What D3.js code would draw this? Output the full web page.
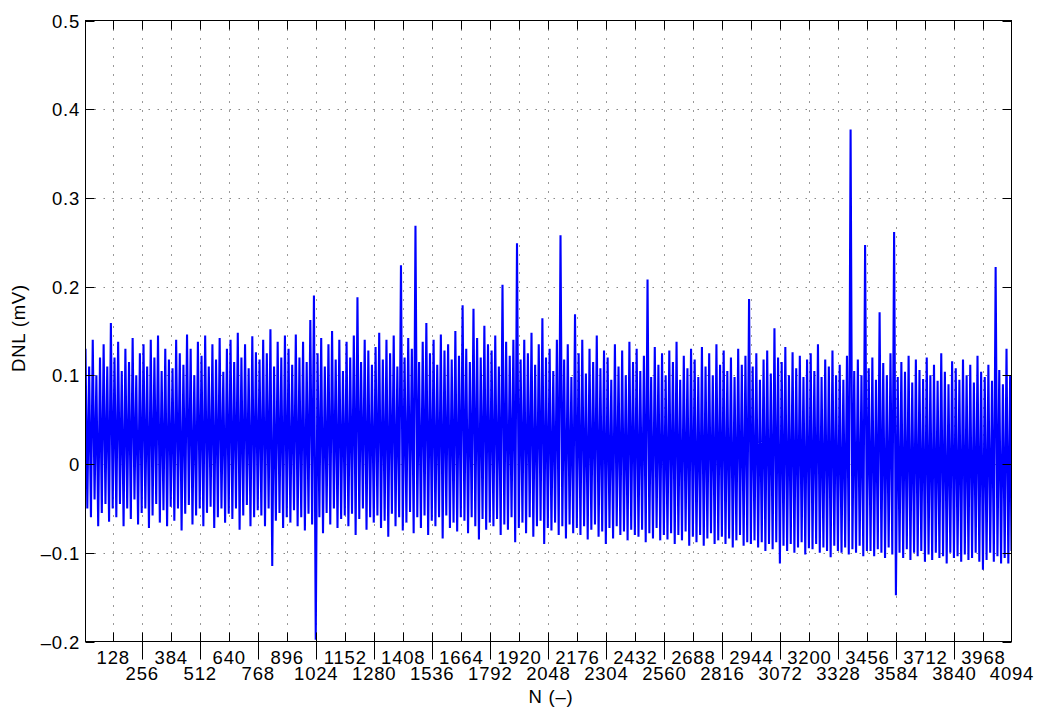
<!DOCTYPE html>
<html>
<head>
<meta charset="utf-8">
<script src="https://cdn.jsdelivr.net/npm/d3@7"></script>
<style>
  body { margin: 0; background: #fff; }
  svg text { font-family: "Liberation Sans", Arial, Helvetica, sans-serif; font-size: 18.5px; letter-spacing: 0.8px; fill: #000; }
</style>
</head>
<body>
<svg id="chart" width="1039" height="709"></svg>
<script>
// X tick labels: odd multiples of 128 on the upper row, even ones (plus the last code) below
const xLabelsUpper = [128, 384, 640, 896, 1152, 1408, 1664, 1920, 2176, 2432, 2688, 2944, 3200, 3456, 3712, 3968];
const xLabelsLower = [256, 512, 768, 1024, 1280, 1536, 1792, 2048, 2304, 2560, 2816, 3072, 3328, 3584, 3840, 4094];
const yTickValues = [-0.2, -0.1, 0, 0.1, 0.2, 0.3, 0.4, 0.5];
const xRange = [8, 4094];

// DNL per code in mV, one vertex every 8 codes starting at code 8 (16 vertices per 128-code block)
const dnl = [
  0.13,-0.05,0.11,-0.06,0.14,-0.04,0.10,-0.07,0.12,-0.055,0.135,-0.045,0.11,-0.065,0.159,-0.05,
  0.12,-0.06,0.138,-0.045,0.105,-0.07,0.13,-0.05,0.115,-0.062,0.142,-0.04,0.10,-0.068,0.125,-0.055,
  0.135,-0.05,0.11,-0.072,0.14,-0.058,0.12,-0.045,0.145,-0.066,0.105,-0.052,0.13,-0.07,0.118,-0.048,
  0.108,-0.064,0.14,-0.05,0.125,-0.075,0.112,-0.056,0.146,-0.046,0.13,-0.068,0.10,-0.058,0.138,-0.05,
  0.122,-0.07,0.145,-0.055,0.11,-0.048,0.135,-0.072,0.118,-0.06,0.142,-0.05,0.104,-0.066,0.13,-0.056,
  0.14,-0.062,0.115,-0.05,0.148,-0.074,0.12,-0.058,0.135,-0.046,0.108,-0.07,0.144,-0.06,0.126,-0.052,
  0.118,-0.058,0.14,-0.07,0.125,-0.05,0.152,-0.115,0.11,-0.064,0.138,-0.055,0.12,-0.072,0.145,-0.06,
  0.13,-0.066,0.112,-0.052,0.146,-0.07,0.12,-0.06,0.138,-0.075,0.115,-0.056,0.1625,-0.068,0.19,-0.198,
  0.125,-0.06,0.142,-0.078,0.11,-0.055,0.135,-0.068,0.15,-0.05,0.118,-0.072,0.14,-0.062,0.105,-0.058,
  0.138,-0.07,0.12,-0.056,0.145,-0.08,0.188,-0.062,0.115,-0.05,0.14,-0.074,0.128,-0.06,0.112,-0.066,
  0.132,-0.058,0.148,-0.072,0.118,-0.064,0.14,-0.082,0.125,-0.056,0.145,-0.07,0.11,-0.06,0.224,-0.075,
  0.12,-0.066,0.142,-0.054,0.13,-0.078,0.2685,-0.06,0.115,-0.072,0.138,-0.058,0.159,-0.08,0.125,-0.064,
  0.14,-0.07,0.112,-0.06,0.146,-0.084,0.128,-0.058,0.135,-0.072,0.118,-0.066,0.15,-0.076,0.122,-0.06,
  0.179,-0.064,0.13,-0.078,0.115,-0.06,0.175,-0.07,0.142,-0.085,0.12,-0.062,0.156,-0.074,0.135,-0.066,
  0.128,-0.07,0.145,-0.062,0.11,-0.08,0.202,-0.068,0.138,-0.074,0.122,-0.06,0.14,-0.088,0.249,-0.072,
  0.118,-0.066,0.14,-0.078,0.125,-0.06,0.148,-0.082,0.112,-0.07,0.135,-0.064,0.1645,-0.09,0.12,-0.072,
  0.13,-0.075,0.105,-0.066,0.14,-0.08,0.258,-0.07,0.118,-0.084,0.135,-0.068,0.098,-0.078,0.169,-0.072,
  0.125,-0.08,0.14,-0.07,0.102,-0.085,0.13,-0.074,0.115,-0.068,0.145,-0.082,0.108,-0.076,0.128,-0.09,
  0.12,-0.072,0.095,-0.084,0.135,-0.07,0.11,-0.08,0.128,-0.076,0.10,-0.086,0.138,-0.074,0.115,-0.08,
  0.13,-0.082,0.105,-0.074,0.122,-0.088,0.208,-0.078,0.098,-0.084,0.132,-0.072,0.112,-0.086,0.125,-0.08,
  0.10,-0.085,0.128,-0.078,0.115,-0.09,0.138,-0.08,0.095,-0.086,0.122,-0.076,0.108,-0.092,0.13,-0.082,
  0.118,-0.088,0.098,-0.08,0.132,-0.092,0.11,-0.084,0.125,-0.078,0.10,-0.09,0.135,-0.086,0.112,-0.082,
  0.128,-0.09,0.105,-0.084,0.12,-0.094,0.098,-0.086,0.13,-0.08,0.112,-0.092,0.122,-0.088,0.186,-0.09,
  0.11,-0.086,0.125,-0.094,0.095,-0.088,0.118,-0.098,0.128,-0.09,0.102,-0.096,0.153,-0.088,0.12,-0.112,
  0.115,-0.092,0.132,-0.098,0.10,-0.09,0.126,-0.10,0.108,-0.094,0.122,-0.088,0.098,-0.102,0.118,-0.095,
  0.125,-0.096,0.105,-0.09,0.135,-0.10,0.098,-0.094,0.118,-0.098,0.11,-0.105,0.128,-0.092,0.10,-0.098,
  0.112,-0.10,0.095,-0.094,0.122,-0.102,0.377,-0.096,0.105,-0.10,0.118,-0.092,0.10,-0.104,0.247,-0.098,
  0.108,-0.098,0.12,-0.104,0.095,-0.096,0.171,-0.10,0.114,-0.106,0.10,-0.094,0.125,-0.102,0.2615,-0.148,
  0.098,-0.10,0.115,-0.106,0.104,-0.096,0.122,-0.108,0.092,-0.10,0.118,-0.104,0.106,-0.098,0.096,-0.11,
  0.12,-0.102,0.10,-0.108,0.112,-0.10,0.094,-0.106,0.125,-0.104,0.104,-0.112,0.09,-0.10,0.116,-0.106,
  0.108,-0.104,0.095,-0.11,0.118,-0.102,0.10,-0.108,0.112,-0.106,0.092,-0.10,0.122,-0.11,0.104,-0.119,
  0.098,-0.108,0.112,-0.10,0.094,-0.11,0.222,-0.104,0.106,-0.112,0.09,-0.106,0.13,-0.112,0.10,-0.098
];
const codes = dnl.map((_, i) => Math.min(8 + 8 * i, xRange[1]));

const svg = d3.select("#chart");
const x = d3.scaleLinear().domain(xRange).range([85.5, 1011.5]);
const y = d3.scaleLinear().domain([-0.2, 0.5]).range([641.5, 20.5]);
const [x0, x1] = x.range();
const [yb, yt] = y.range();

const gridTicks = d3.range(128, 4094, 128);

// dotted grid
const grid = svg.append("g");
grid.selectAll("line.vg").data(gridTicks).join("line")
  .attr("x1", d => Math.round(x(d)) + 0.5).attr("x2", d => Math.round(x(d)) + 0.5)
  .attr("y1", yt).attr("y2", yb)
  .attr("stroke", "#333").attr("stroke-width", 1).attr("stroke-dasharray", "1,8");
grid.selectAll("line.hg").data(yTickValues.filter(v => v > -0.2 && v < 0.5)).join("line")
  .attr("x1", x0).attr("x2", x1)
  .attr("y1", d => Math.round(y(d)) + 0.5).attr("y2", d => Math.round(y(d)) + 0.5)
  .attr("stroke", "#888").attr("stroke-width", 1.2).attr("stroke-dasharray", "1.5,7.5");

// data trace
svg.append("clipPath").attr("id", "plotclip").append("rect")
  .attr("x", x0).attr("y", yt).attr("width", x1 - x0).attr("height", yb - yt);
svg.append("path")
  .datum(dnl)
  .attr("clip-path", "url(#plotclip)")
  .attr("fill", "none")
  .attr("stroke", "#0000ff")
  .attr("stroke-width", 2.1)
  .attr("d", d3.line().x((d, i) => x(codes[i])).y(d => y(d)));

// frame with inward ticks
const axes = svg.append("g").attr("stroke", "#000").attr("stroke-width", 1).attr("fill", "none");
axes.append("rect").attr("x", x0).attr("y", yt).attr("width", x1 - x0).attr("height", yb - yt);
const tickLen = 9;
axes.selectAll("line.xb").data(gridTicks).join("line")
  .attr("x1", d => Math.round(x(d)) + 0.5).attr("x2", d => Math.round(x(d)) + 0.5)
  .attr("y1", yb).attr("y2", yb - tickLen);
axes.selectAll("line.xt").data(gridTicks).join("line")
  .attr("x1", d => Math.round(x(d)) + 0.5).attr("x2", d => Math.round(x(d)) + 0.5)
  .attr("y1", yt).attr("y2", yt + tickLen);
// long separators below the axis for the lower label row
axes.selectAll("line.xl").data(xLabelsLower.filter(v => v % 256 === 0)).join("line")
  .attr("x1", d => Math.round(x(d)) + 0.5).attr("x2", d => Math.round(x(d)) + 0.5)
  .attr("y1", yb).attr("y2", yb + 18);
axes.selectAll("line.yl").data(yTickValues).join("line")
  .attr("x1", x0).attr("x2", x0 + tickLen)
  .attr("y1", d => Math.round(y(d)) + 0.5).attr("y2", d => Math.round(y(d)) + 0.5);
axes.selectAll("line.yr").data(yTickValues).join("line")
  .attr("x1", x1).attr("x2", x1 - tickLen)
  .attr("y1", d => Math.round(y(d)) + 0.5).attr("y2", d => Math.round(y(d)) + 0.5);

// tick labels
const fmtY = v => (v < 0 ? "\u2013" : "") + (Math.abs(v) < 1e-9 ? "0" : d3.format(".1f")(Math.abs(v)));
svg.append("g").selectAll("text").data(yTickValues).join("text")
  .attr("x", x0 - 5.5).attr("y", d => y(d) + 7)
  .attr("text-anchor", "end")
  .text(fmtY);
svg.append("g").selectAll("text").data(xLabelsUpper).join("text")
  .attr("x", d => x(d) + 0.5).attr("y", 663.5)
  .attr("text-anchor", "middle").text(d => d);
svg.append("g").selectAll("text").data(xLabelsLower).join("text")
  .attr("x", d => x(d) + 0.5).attr("y", 679.5)
  .attr("text-anchor", "middle").text(d => d);

// axis titles
svg.append("text").attr("x", 551).attr("y", 703)
  .attr("text-anchor", "middle").text("N (\u2013)");
svg.append("text").attr("transform", "translate(25,328) rotate(-90)")
  .attr("text-anchor", "middle").text("DNL (mV)");
</script>
</body>
</html>
